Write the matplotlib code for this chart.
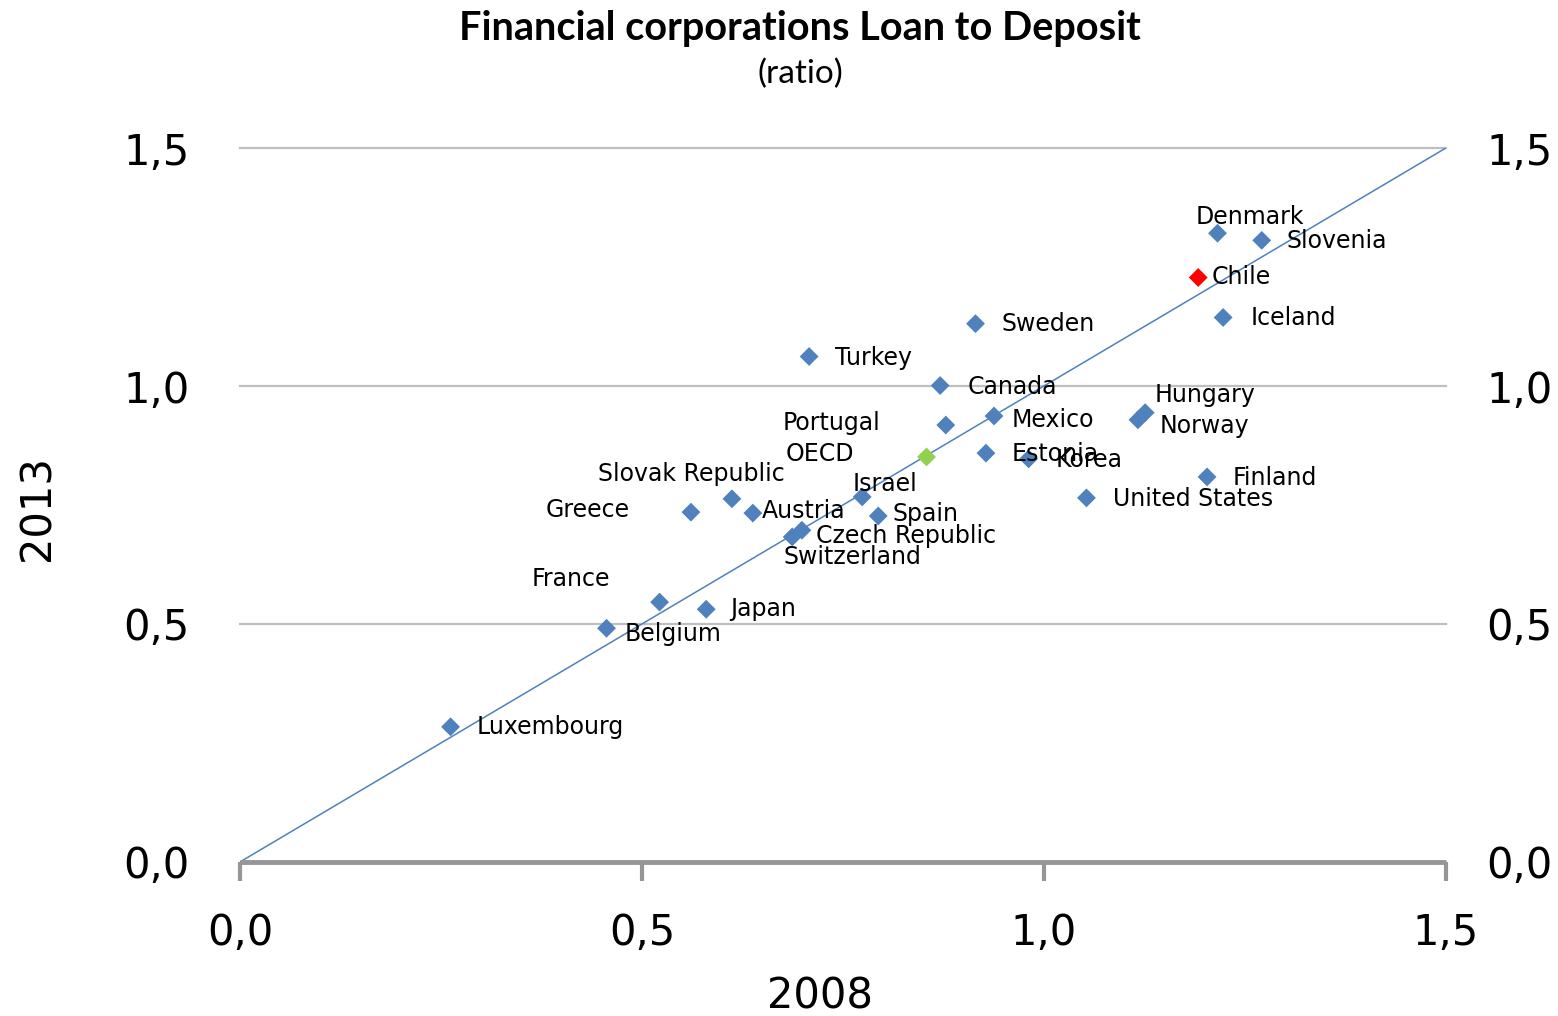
import numpy as np
import matplotlib
matplotlib.use("Agg")
from matplotlib import pyplot as plt

# data (x = 2008, y = 2013)
countries = ["Luxembourg", "Belgium", "France", "Japan", "Greece", "Slovak Republic",
             "Austria", "Switzerland", "Czech Republic", "Israel", "Spain", "OECD",
             "Portugal", "Canada", "Turkey", "Sweden", "Mexico", "Estonia", "Korea",
             "United States", "Hungary", "Norway", "Finland", "Chile", "Denmark",
             "Slovenia", "Iceland"]
x2008 = [0.262, 0.456, 0.522, 0.580, 0.561, 0.612, 0.638, 0.687, 0.699, 0.774,
         0.794, 0.854, 0.878, 0.871, 0.708, 0.915, 0.938, 0.928, 0.981, 1.053,
         1.126, 1.117, 1.203, 1.192, 1.216, 1.271, 1.223]
y2013 = [0.284, 0.491, 0.546, 0.531, 0.735, 0.763, 0.733, 0.683, 0.697, 0.767,
         0.727, 0.851, 0.918, 1.001, 1.062, 1.131, 0.937, 0.859, 0.847, 0.765,
         0.944, 0.929, 0.809, 1.228, 1.321, 1.306, 1.144]
ticks = [0.0, 0.5, 1.0, 1.5]
tick_labels = ["0,0", "0,5", "1,0", "1,5"]

# label offsets in pixels (dx right, dy down), as placed in the original
label_off = {
    "Luxembourg": (26, 0), "Belgium": (18, 6), "France": (-128, -23), "Japan": (24, 0),
    "Greece": (-145, -2), "Slovak Republic": (-134, -25), "Austria": (9, -2),
    "Switzerland": (-9, 20), "Czech Republic": (14, 6), "Israel": (-10, -13),
    "Spain": (14, -2), "OECD": (-141, -3), "Portugal": (-163, -2), "Canada": (27, 1),
    "Turkey": (26, 1), "Sweden": (26, 0), "Mexico": (18, 4), "Estonia": (26, 1),
    "Korea": (27, 1), "United States": (27, 1), "Hungary": (9, -18), "Norway": (22, 6),
    "Finland": (26, 1), "Chile": (13, 0), "Denmark": (-22, -16), "Slovenia": (25, 1),
    "Iceland": (27, 1),
}
special = {"Chile": "#FF0000", "OECD": "#92D050"}
blue = "#4F81BD"

fig = plt.figure(figsize=(15.58, 10.16), dpi=100)
ax = fig.add_axes([0.154, 0.1516, 0.774, 0.7027])

ax.plot([0, 1.5], [0, 1.5], color=blue, lw=1.1, zorder=2)
cols = [special.get(c, blue) for c in countries]
ax.scatter(x2008, y2013, marker="D", s=92, c=cols, linewidths=0, zorder=3)

for c, x, y in zip(countries, x2008, y2013):
    dx, dy = label_off[c]
    ax.annotate(c, (x, y), xytext=(dx, -dy), textcoords="offset pixels",
                ha="left", va="center", fontsize=17, family="DejaVu Sans", zorder=4)

ax.set_xlim(0, 1.5)
ax.set_ylim(0, 1.5)
for g in ticks[1:]:
    ax.axhline(g, color="#BFBFBF", lw=1.6, zorder=1, clip_on=False)

for s in ["left", "right", "top"]:
    ax.spines[s].set_visible(False)
ax.spines["bottom"].set_color("#969696")
ax.spines["bottom"].set_linewidth(3.5)
ax.spines["bottom"].set_capstyle("butt")

ax.set_xticks(ticks)
ax.set_xticklabels(tick_labels)
ax.set_yticks(ticks)
ax.set_yticklabels(tick_labels)
ax.tick_params(axis="x", direction="out", length=14, width=3, color="#969696",
               pad=22, labelsize=30)
ax.tick_params(axis="y", length=0, pad=36, labelsize=30)

ax2 = ax.twinx()
ax2.set_ylim(0, 1.5)
ax2.set_yticks(ticks)
ax2.set_yticklabels(tick_labels)
ax2.tick_params(axis="y", length=0, pad=29, labelsize=30)
for s in ax2.spines.values():
    s.set_visible(False)

ax.text(0.481, -0.189, "2008", transform=ax.transAxes, ha="center", va="center",
        fontsize=30)
ax.text(-0.168, 0.496, "2013", transform=ax.transAxes, ha="center", va="center",
        fontsize=30, rotation=90)

fig.text(0.5135, 0.972, "Financial corporations Loan to Deposit", ha="center",
         va="center", fontsize=28.5, fontweight="bold", family="Lato")
fig.text(0.5135, 0.927, "(ratio)", ha="center", va="center", fontsize=24, family="Lato")

plt.savefig("out.png", dpi=100)
